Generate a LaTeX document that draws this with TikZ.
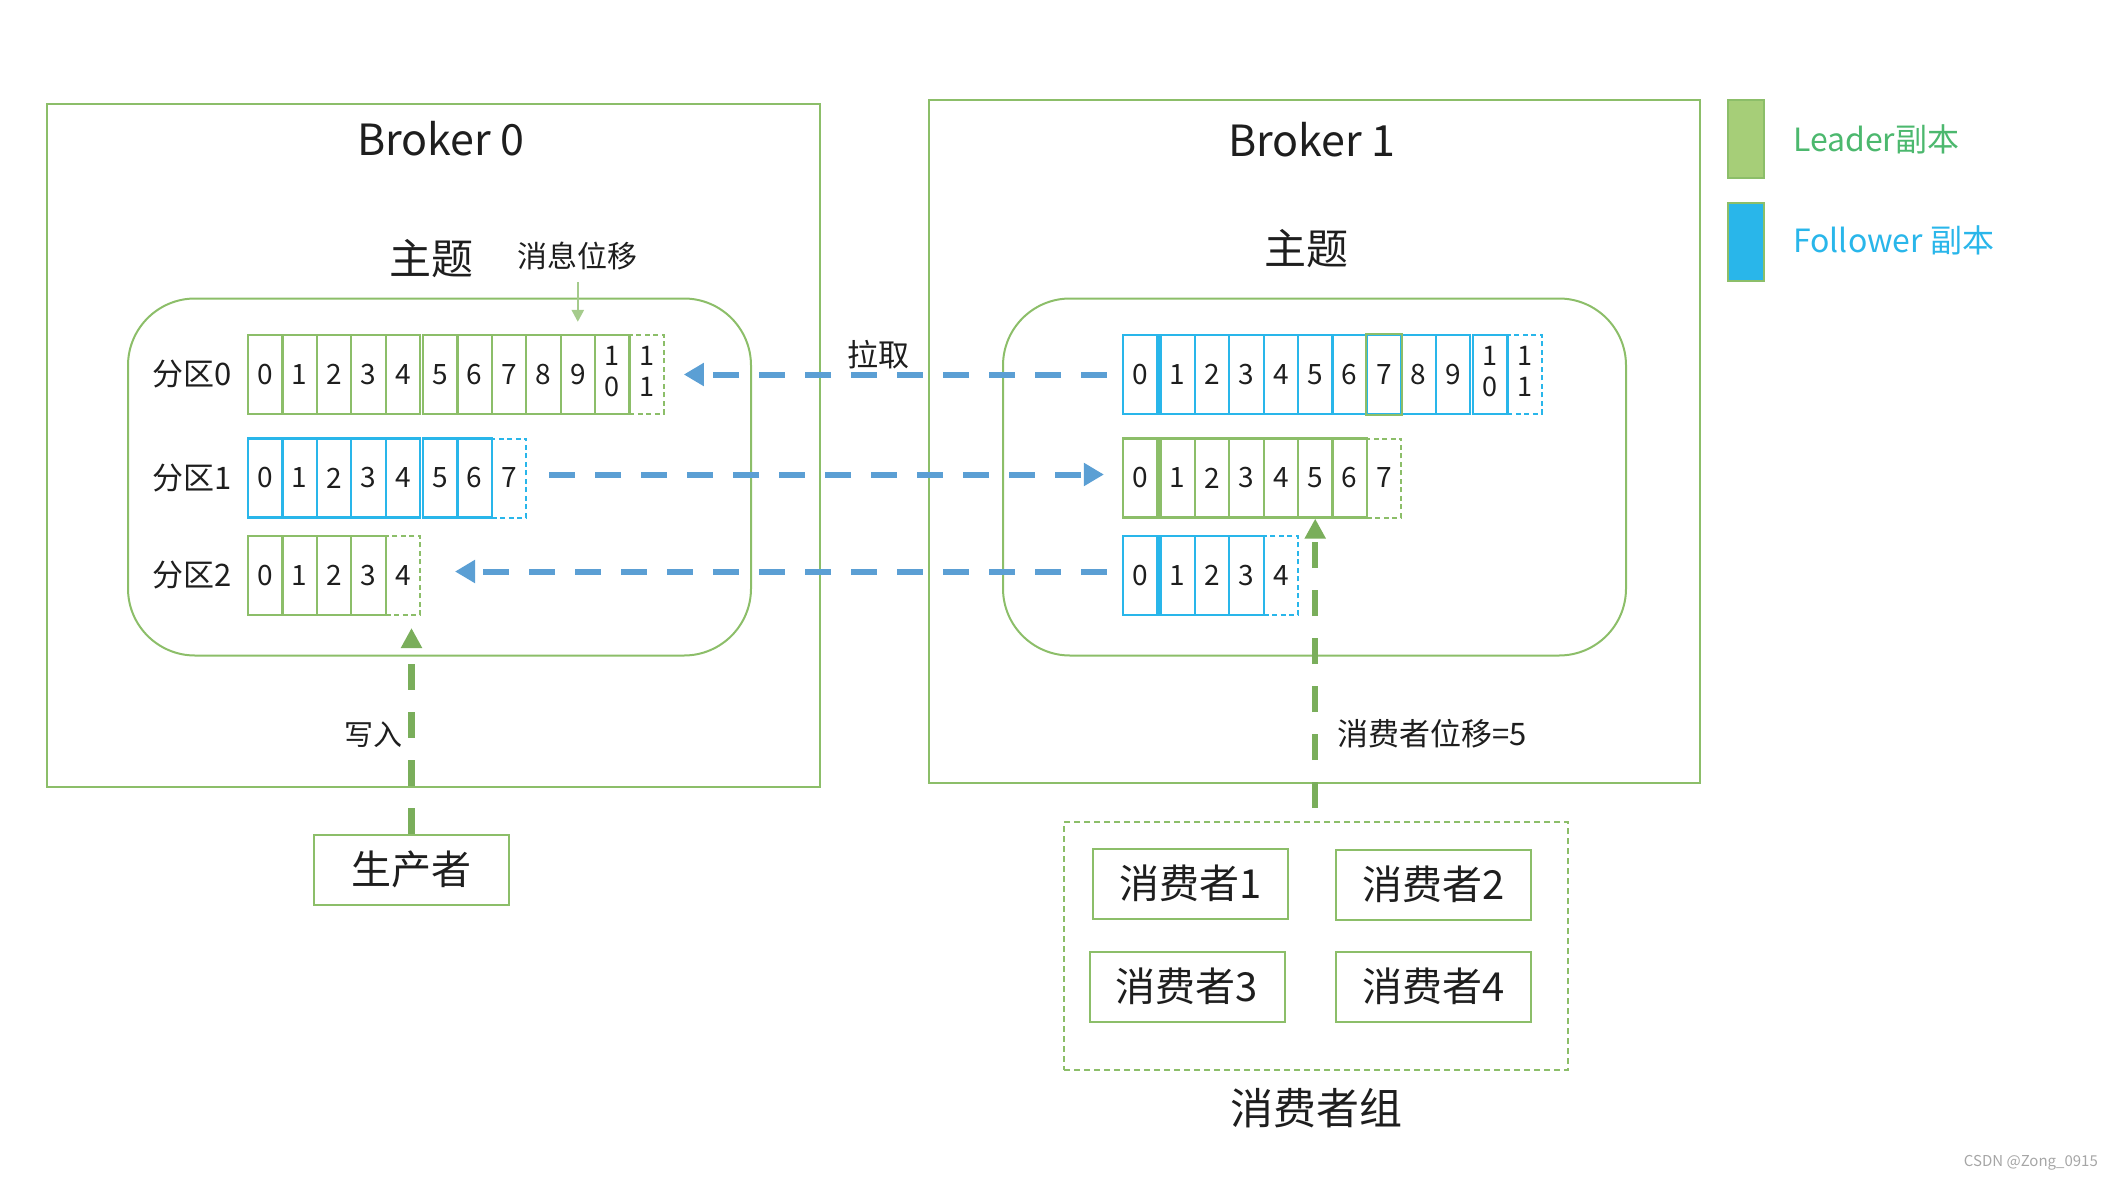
\documentclass[tikz,border=0pt]{standalone}
\usepackage{fontspec}
\setmainfont{Noto Sans CJK SC}
\usetikzlibrary{arrows.meta, positioning}

\definecolor{leadgreen}{RGB}{140,190,105}
\definecolor{legendgreen}{RGB}{166,206,120}
\definecolor{folblue}{RGB}{41,182,234}
\definecolor{pullblue}{RGB}{91,159,212}
\definecolor{writegreen}{RGB}{122,174,91}
\definecolor{offgreen}{RGB}{165,203,140}
\definecolor{leadtext}{RGB}{76,184,110}
\definecolor{inkgray}{RGB}{30,30,30}

\newcommand\fsize[1]{\fontsize{#1}{#1}\selectfont}
\newcommand\celltext[1]{\ifnum#1>9 {\fontsize{27}{31}\selectfont\begin{tabular}{@{}c@{}}1\\\the\numexpr#1-10\relax\end{tabular}}\else#1\fi}
% one partition log: name, left x, centre y, next offset, colour, gaps after offsets #6 and #7
\newcommand\logrow[7]{%
  \foreach \i in {0,...,#4} {
    \pgfmathsetmacro\cx{#2+17.2+34.4*\i+3*(\i>#6)+3*(\i>#7)}
    \ifnum\i<#4
      \node[cell=#5] (#1c\i) at (\cx,#3) {\celltext{\i}};
    \else
      \node[nextcell=#5] (#1c\i) at (\cx,#3) {\celltext{\i}};
    \fi
  }%
}

\begin{document}
\begin{tikzpicture}[x=1pt, y=-1pt, inner sep=0pt, text=inkgray,
  broker/.style={draw=leadgreen, line width=2pt, minimum width=773pt, minimum height=683pt},
  topic/.style={draw=leadgreen, line width=2pt, rounded corners=67pt, minimum width=623pt, minimum height=357pt},
  cell/.style={draw=#1, line width=2.2pt, minimum width=34.4pt, minimum height=79pt, font=\fsize{28}},
  nextcell/.style={cell=#1, line width=2pt, dash pattern=on 5pt off 3.5pt},
  member/.style={draw=leadgreen, line width=2pt, minimum width=195pt, minimum height=70pt, font=\fsize{40}},
  pull/.style={pullblue, line width=6pt, dash pattern=on 26pt off 20pt, -{Triangle[length=20pt, width=22pt]}},
  push/.style={writegreen, line width=6.5pt, dash pattern=on 26pt off 22pt, -{Triangle[length=20pt, width=20pt]}},
]
\useasboundingbox (0,0) rectangle (2114,1180);

% brokers and topics
\node[broker] (b0) at (433.5,445.5) {};
\node[broker, minimum width=771pt] (b1) at (1314.5,441.5) {};
\node[font=\fsize{43}] (b0name) at (441,139) {Broker 0};
\node[font=\fsize{43}] (b1name) at (1312,140) {Broker 1};
\node[topic] (t0) at (439.5,477) {};
\node[topic] (t1) at (1314.5,477) {};
\node[font=\fsize{42}] (t0name) at (431,259) {主题};
\node[font=\fsize{42}] (t1name) at (1306,249) {主题};
\node[font=\fsize{30}] (msgoff) at (577,256) {消息位移};

% partition logs
\logrow{l0}{248}{374.5}{11}{leadgreen}{4}{99}
\logrow{l1}{248}{478}{7}{folblue}{4}{99}
\logrow{l2}{248}{575.5}{4}{leadgreen}{4}{99}
\logrow{r0}{1123}{374.5}{11}{folblue}{0}{9}
\logrow{r1}{1123}{478}{7}{leadgreen}{0}{9}
\logrow{r2}{1123}{575.5}{4}{folblue}{0}{9}
\draw[leadgreen, line width=2.2pt] (r0c7.south west) rectangle (r0c7.north east);
\foreach \r in {0,1,2}
  \node[font=\fsize{31}, left=15pt of l\r c0] (p\r) {分区\r};

\draw[offgreen, line width=2.5pt, -{Triangle[length=12pt, width=12pt]}] ([yshift=-12pt]msgoff.south -| l0c9) -- ([yshift=12pt]l0c9.north);

% replication
\draw[pull] ([xshift=-15pt]r0c0.west) -- ([xshift=19pt]l0c11.east);
\node[font=\fsize{31}] (pulltext) at (878,355) {拉取};
\draw[pull] ([xshift=22pt, yshift=3.5pt]l1c7.east) -- ([xshift=-18pt, yshift=3.5pt]r1c0.west);
\draw[pull] ([xshift=-15pt, yshift=4pt]r2c0.west) -- ([xshift=34pt, yshift=4pt]l2c4.east);

% producer
\node[member] (prod) at (411.5,869.5) {生产者};
\draw[push] (prod.north) -- ([yshift=-12pt]prod.north |- l2c4.south);
\node[font=\fsize{29}] (writetext) at (373,735) {写入};

% consumer group
\node[draw=leadgreen, line width=1.8pt, dash pattern=on 6pt off 4pt, minimum width=504pt, minimum height=248pt] (cgroup) at (1316,946) {};
\node[member] (c1) at (1190.5,883.5) {消费者1};
\node[member] (c2) at (1433.5,884.5) {消费者2};
\node[member] (c3) at (1187,986.5) {消费者3};
\node[member] (c4) at (1433.5,986.5) {消费者4};
\node[font=\fsize{43}, below=17pt of cgroup] (cgname) {消费者组};
\draw[push] ([yshift=13pt]cgroup.north -| r1c5) -- (r1c5.south);
\node[font=\fsize{31}, anchor=west] (coff) at (1337,734) {消费者位移=5};

% legend
\node[fill=legendgreen, draw=leadgreen, line width=1.5pt, minimum width=36pt, minimum height=78pt] (legL) at (1746,139) {};
\node[fill=folblue, draw=leadgreen, line width=1.5pt, minimum width=36pt, minimum height=78pt] (legF) at (1746,242) {};
\node[font=\fsize{32}, text=leadtext, anchor=west] (legLtext) at (1793,139) {Leader副本};
\node[font=\fsize{32}, text=folblue, anchor=west] (legFtext) at (1793,240) {Follower 副本};

\node[font=\fsize{15}, text=gray!70, anchor=east] (mark) at (2098,1163) {CSDN @Zong\_0915};
\end{tikzpicture}
\end{document}
